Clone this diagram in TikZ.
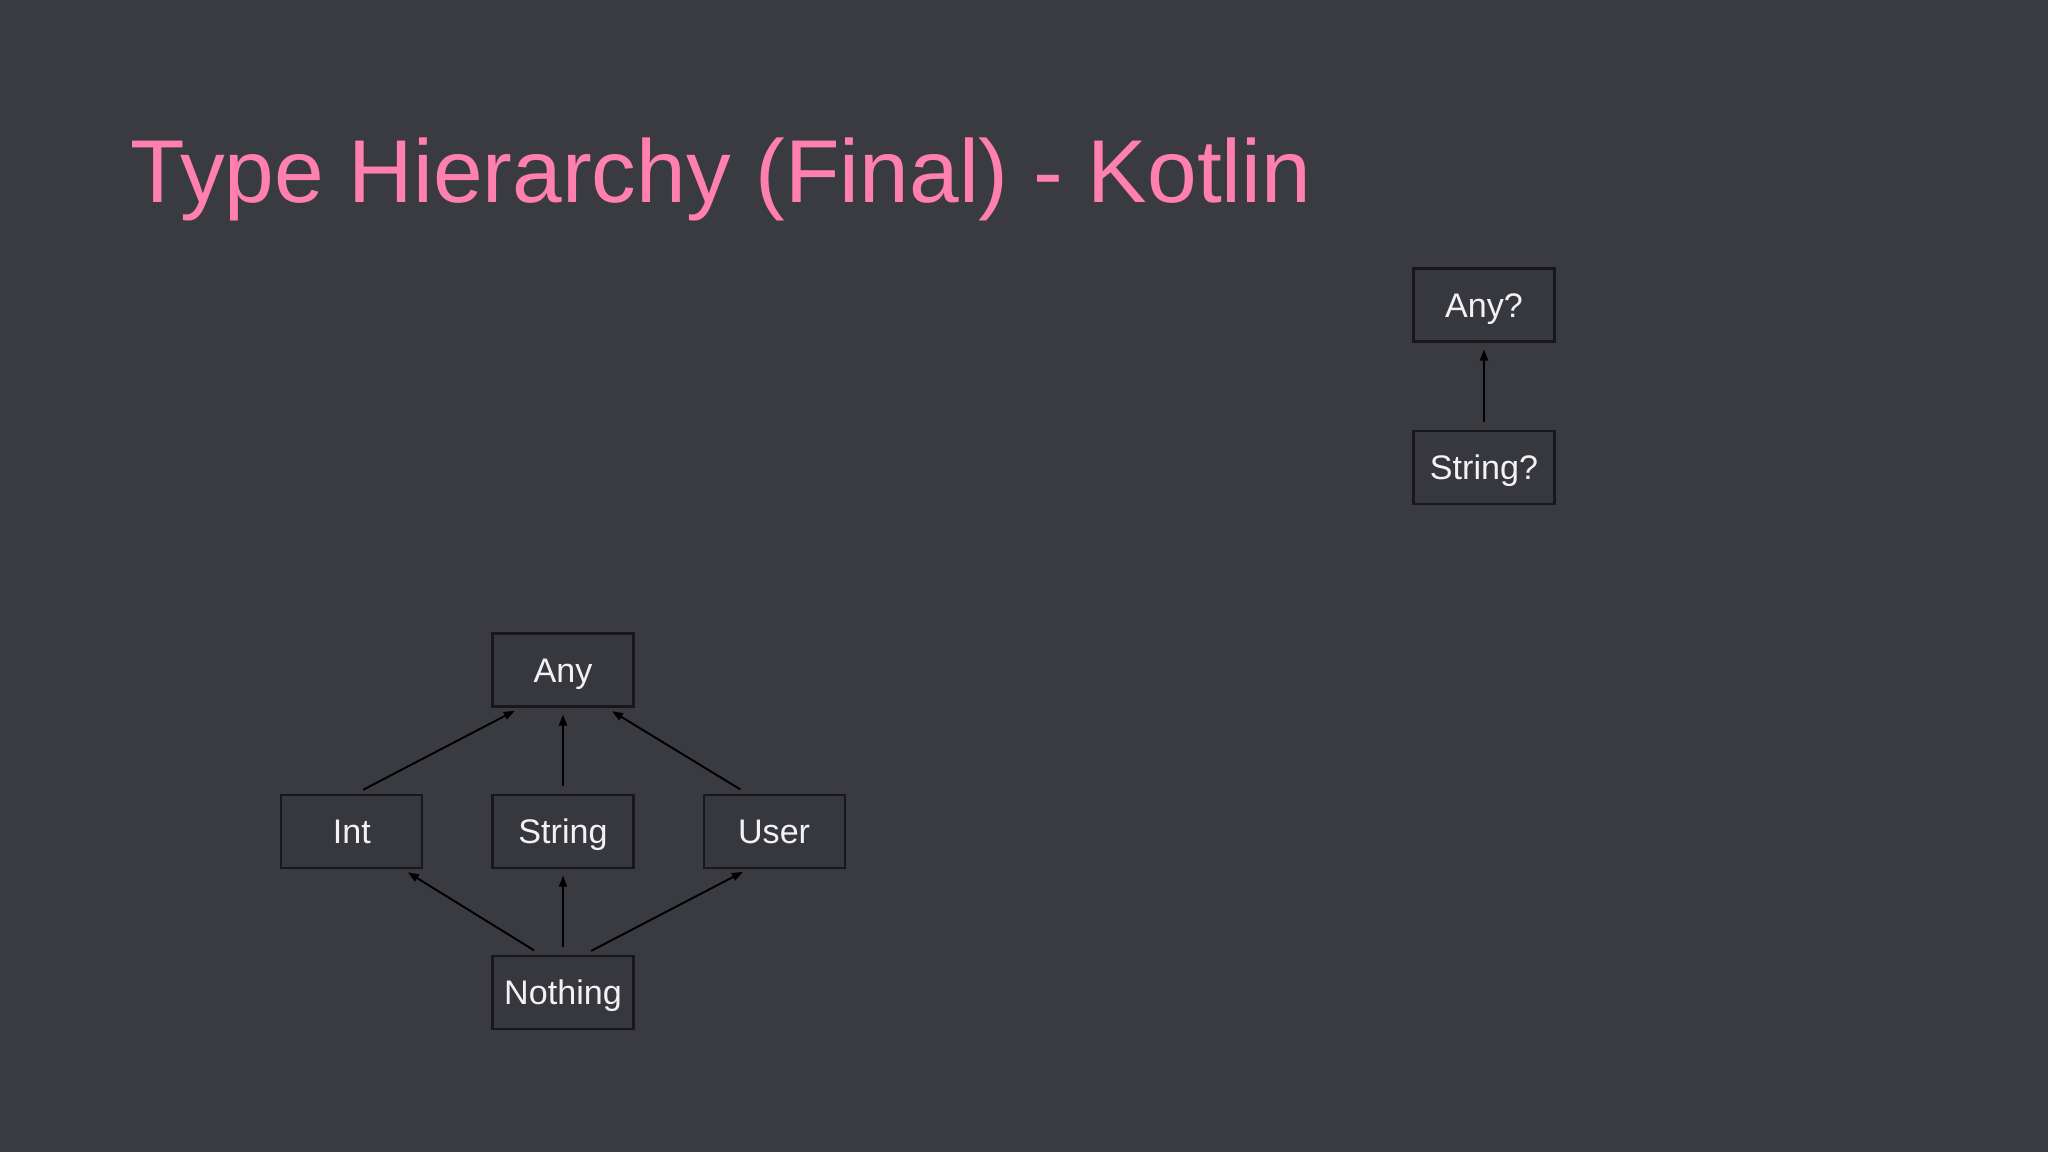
\documentclass[tikz,border=0pt]{standalone}
\usepackage{fontspec}
\setmainfont{Liberation Sans}
\usetikzlibrary{positioning,arrows.meta}
\definecolor{slidebg}{RGB}{58,59,65}
\definecolor{boxfill}{RGB}{55,56,62}
\definecolor{boxline}{RGB}{24,24,27}
\definecolor{typetext}{RGB}{242,242,244}
\definecolor{titlepink}{RGB}{255,128,172}

\begin{document}
\begin{tikzpicture}[
  node distance=0.86cm and 0.68cm,
  typebox/.style={draw=boxline,fill=boxfill,line width=0.6pt,minimum width=1.41cm,minimum height=0.73cm,inner sep=0pt,text height=0.244cm,text depth=0pt,text=typetext,font=\fontsize{9.7}{12}\selectfont},
  every edge/.style={draw=black,line width=0.55pt,-{Triangle[length=0.11cm,width=0.08cm]},shorten <=0.08cm,shorten >=0.07cm},
]
  \fill[slidebg] (0,0) rectangle (20.48,11.52);
  \useasboundingbox (0,0) rectangle (20.48,11.52);

  % Title
  \node[anchor=base west,inner sep=0pt,text=titlepink,font=\fontsize{25.4}{30}\selectfont] (title) at (1.30,9.49) {Type Hierarchy (Final) - Kotlin};

  % Non-null types
  \node[typebox] (any) at (5.63,4.82) {Any};
  \node[typebox,below=of any] (string) {String};
  \node[typebox,left=of string] (int) {Int};
  \node[typebox,right=of string] (user) {User};
  \node[typebox,below=of string] (nothing) {Nothing};

  % Nullable types
  \node[typebox] (anyq) at (14.84,8.47) {Any?};
  \node[typebox,below=0.87cm of anyq] (stringq) {String?};

  % Edges: subtypes of Any
  \path ([xshift=0.04cm]int.north) edge ([xshift=-0.42cm]any.south);
  \path (string) edge (any);
  \path ([xshift=-0.27cm]user.north) edge ([xshift=0.43cm]any.south);

  % Edges: Nothing below all
  \path ([xshift=-0.22cm]nothing.north) edge ([xshift=0.50cm]int.south);
  \path (nothing) edge (string);
  \path ([xshift=0.21cm]nothing.north) edge ([xshift=-0.25cm]user.south);

  % Edges: nullable
  \path (stringq) edge (anyq);
\end{tikzpicture}
\end{document}
